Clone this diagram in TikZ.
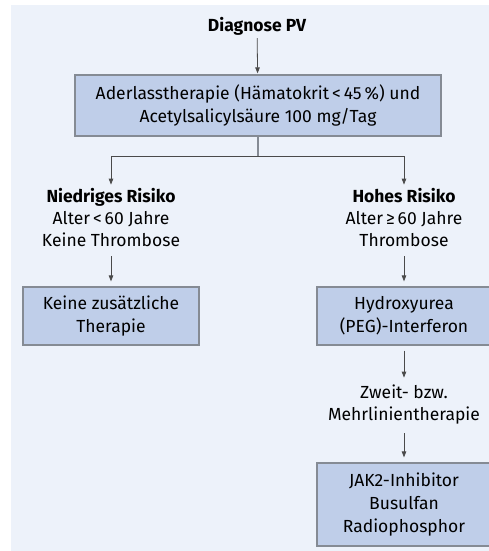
\documentclass[tikz,border=0pt]{standalone}
\usepackage{fontspec}
\setmainfont{Fira Sans}
\usepackage{xcolor}
\usetikzlibrary{arrows.meta}
\definecolor{bgblue}{HTML}{EDF2FA}
\definecolor{boxblue}{HTML}{BFCEE9}
\definecolor{boxline}{HTML}{858B94}
\definecolor{arrowgray}{HTML}{4A4A4A}
\tikzset{
    box/.style={draw=boxline, line width=1.2pt, fill=boxblue, align=center, inner sep=0pt, font=\fontsize{17.5}{23}\selectfont},
    label text/.style={align=center, inner sep=0pt, font=\fontsize{17.5}{22}\selectfont},
    arr/.style={draw=arrowgray, line width=0.8pt, -{Triangle[length=6pt,width=4.5pt]}},
    branch/.style={draw=boxline, line width=1.4pt}
}

\begin{document}
\begin{tikzpicture}[x=1pt, y=-1pt]
        % Background
        \useasboundingbox (0,0) rectangle (489,551);
        \fill[bgblue] (11,5) rectangle (489,551);

        % Start
        \node[label text, font=\fontsize{17.5}{22}\selectfont\bfseries] (diagnose) at (257,26) {Diagnose PV};
        \node[box, minimum width=366pt, minimum height=61pt] (aderlass) at (258,105.5)
            {Aderlasstherapie (Hämatokrit\,<\,45\,\%) und\\Acetylsalicylsäure 100~mg/Tag};

        % Risk groups
        \node[label text] (niedrig) at (111,218) {\textbf{Niedriges Risiko}\\Alter\,<\,60 Jahre\\Keine Thrombose};
        \node[label text] (hoch) at (404,218) {\textbf{Hohes Risiko}\\Alter\,≥\,60 Jahre\\Thrombose};

        % Therapies
        \node[box, minimum width=176pt, minimum height=58pt] (keine) at (111,316) {Keine zusätzliche\\Therapie};
        \node[box, minimum width=174pt, minimum height=58pt] (hydroxy) at (404,316) {Hydroxyurea\\(PEG)-Interferon};
        \node[label text] (zweit) at (404,404.5) {Zweit- bzw.\\Mehrlinientherapie};
        \node[box, minimum width=174pt, minimum height=83pt] (jak) at (404,504.5) {JAK2-Inhibitor\\Busulfan\\Radiophosphor};

        % Connectors
        \coordinate (split) at (258,156);
        \draw[arr, shorten <=3pt, shorten >=1pt] (diagnose) -- (aderlass);
        \draw[branch] (aderlass.south) -- (split);
        \draw[arr, shorten >=4pt] (split) -| (niedrig.north);
        \draw[arr, shorten >=4pt] (split) -| (hoch.north);
        \draw[arr, shorten <=9pt, shorten >=5pt] (niedrig) -- (keine);
        \draw[arr, shorten <=9pt, shorten >=5pt] (hoch) -- (hydroxy);
        \draw[arr, shorten <=5pt, shorten >=7pt] (hydroxy) -- (zweit);
        \draw[arr, shorten <=9pt, shorten >=5pt] (zweit) -- (jak);
\end{tikzpicture}
\end{document}
